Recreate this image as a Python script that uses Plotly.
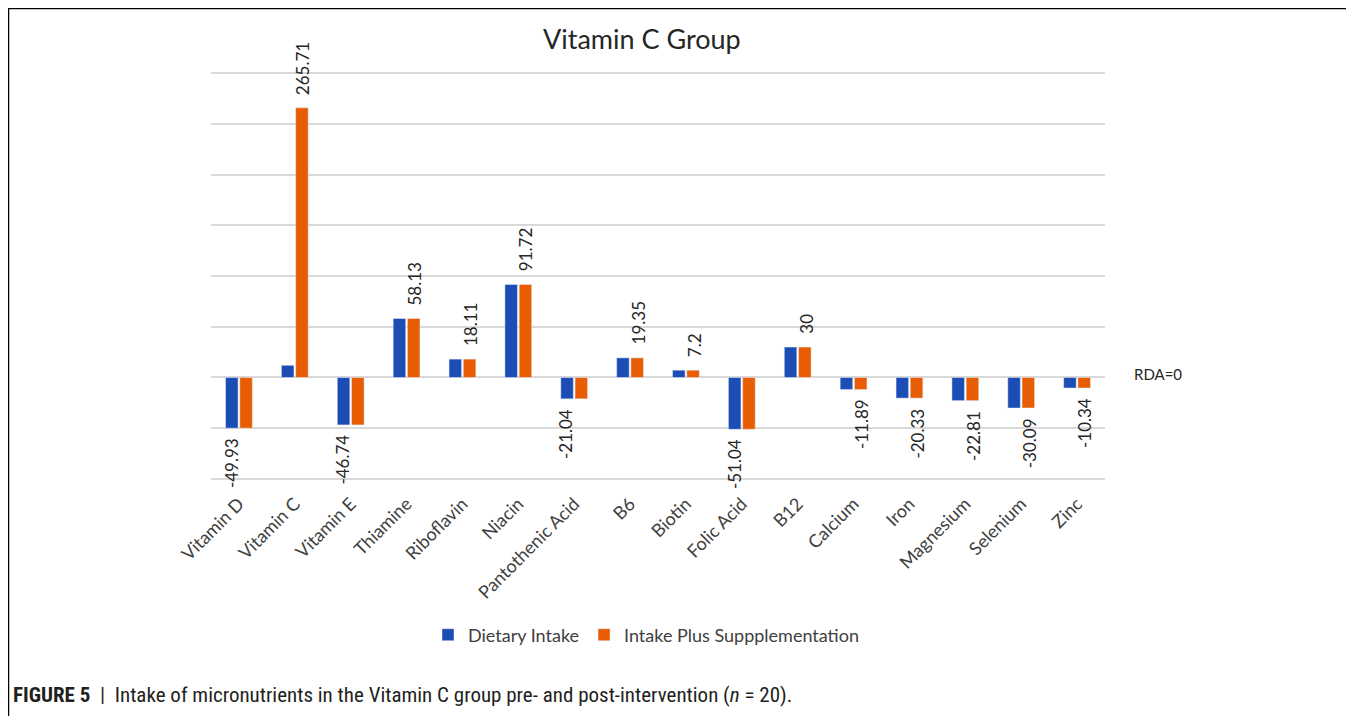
import plotly.graph_objects as go

categories = ["Vitamin D", "Vitamin C", "Vitamin E", "Thiamine", "Riboflavin", "Niacin",
              "Pantothenic Acid", "B6", "Biotin", "Folic Acid", "B12", "Calcium", "Iron",
              "Magnesium", "Selenium", "Zinc"]
dietary = [-49.93, 12, -46.74, 58.13, 18.11, 91.72, -21.04, 19.35, 7.2, -51.04, 30,
           -11.89, -20.33, -22.81, -30.09, -10.34]
supplemented = [-49.93, 265.71, -46.74, 58.13, 18.11, 91.72, -21.04, 19.35, 7.2, -51.04, 30,
                -11.89, -20.33, -22.81, -30.09, -10.34]
label_text = ["-49.93", "265.71", "-46.74", "58.13", "18.11", "91.72", "-21.04", "19.35",
              "7.2", "-51.04", "30", "-11.89", "-20.33", "-22.81", "-30.09", "-10.34"]
labels_under_blue = {"Vitamin D", "Vitamin E", "Pantothenic Acid", "Folic Acid"}

BLUE = "#1B4DB4"
ORANGE = "#E85D04"
OFF = 8  # page body margin
W, H = 1354 - OFF, 716 - OFF
# plot area in page pixels: x 211..1105, y 72..480 (range -101..301)
ML, MR, MT, MB = 211 - OFF, 1354 - 1105, 72 - OFF, 716 - 480
PW, PH = W - ML - MR, H - MT - MB

def px(x):
    return (x - OFF - ML) / PW

def py(y):
    return (H - MB - (y - OFF)) / PH

FONT = "Lato, Carlito, Calibri, Open Sans, sans-serif"

fig = go.Figure()
fig.add_trace(go.Bar(x=categories, y=dietary, name="Dietary Intake", marker_color=BLUE))
fig.add_trace(go.Bar(x=categories, y=supplemented, name="Intake Plus Suppplementation",
                     marker_color=ORANGE))

for cat, v, t in zip(categories, supplemented, label_text):
    shift = -8 if cat in labels_under_blue else 8
    fig.add_annotation(x=cat, y=v, text=t, textangle=-90, showarrow=False,
                       xshift=shift, yshift=11 if v >= 0 else -8,
                       yanchor="bottom" if v >= 0 else "top",
                       font=dict(family=FONT, size=17, color="#262626"))

fig.add_annotation(xref="paper", yref="y", x=px(1132), y=0, xanchor="left", yanchor="middle",
                   yshift=3, text="RDA=0", showarrow=False,
                   font=dict(family=FONT, size=15, color="#262626"))

fig.add_annotation(xref="paper", yref="paper", x=px(642), y=py(38), text="Vitamin C Group",
                   showarrow=False, xanchor="center", yanchor="middle",
                   font=dict(family=FONT, size=27, color="#262626"))

fig.add_annotation(xref="paper", yref="paper", x=px(11), y=py(695), xanchor="left",
                   yanchor="middle", showarrow=False,
                   text="<b>FIGURE 5</b>  |  Intake of micronutrients in the Vitamin C group pre- and post-intervention (<i>n</i> = 20).",
                   font=dict(family="Liberation Sans Narrow, Roboto Condensed, Liberation Sans, sans-serif",
                             size=21, color="#231F20"))

# figure frame
fig.add_shape(type="line", xref="paper", yref="paper", x0=px(8.5), x1=px(8.5), y0=py(8), y1=py(720),
              line=dict(color="#000000", width=1.5))
fig.add_shape(type="line", xref="paper", yref="paper", x0=px(8), x1=px(1352), y0=py(8.5), y1=py(8.5),
              line=dict(color="#000000", width=1.5))
fig.add_shape(type="line", xref="paper", yref="paper", x0=px(1352), x1=px(1352), y0=py(8), y1=py(720),
              line=dict(color="#808080", width=2))

fig.update_layout(
    width=W, height=H,
    margin=dict(l=ML, r=MR, t=MT, b=MB, autoexpand=False),
    paper_bgcolor="white", plot_bgcolor="white",
    barmode="group", bargap=0.49, bargroupgap=0.12,
    showlegend=True,
    legend=dict(orientation="h", x=px(646), xanchor="center", y=py(635), yanchor="middle",
                font=dict(family=FONT, size=18, color="#404040"), traceorder="normal",
                itemwidth=30, bgcolor="rgba(0,0,0,0)"),
    font=dict(family=FONT),
)
fig.update_xaxes(tickangle=-45, tickfont=dict(family=FONT, size=18, color="#404040"),
                 ticklabelstandoff=9,
                 showgrid=False, showline=False, ticks="", automargin=False)
fig.update_yaxes(range=[-101, 301], tick0=0, dtick=50, showticklabels=False, showgrid=True,
                 gridcolor="#D9D9D9", gridwidth=1.5, zeroline=True, zerolinecolor="#D9D9D9",
                 zerolinewidth=1.5, showline=False, ticks="", automargin=False)

fig.write_html("out.html")
